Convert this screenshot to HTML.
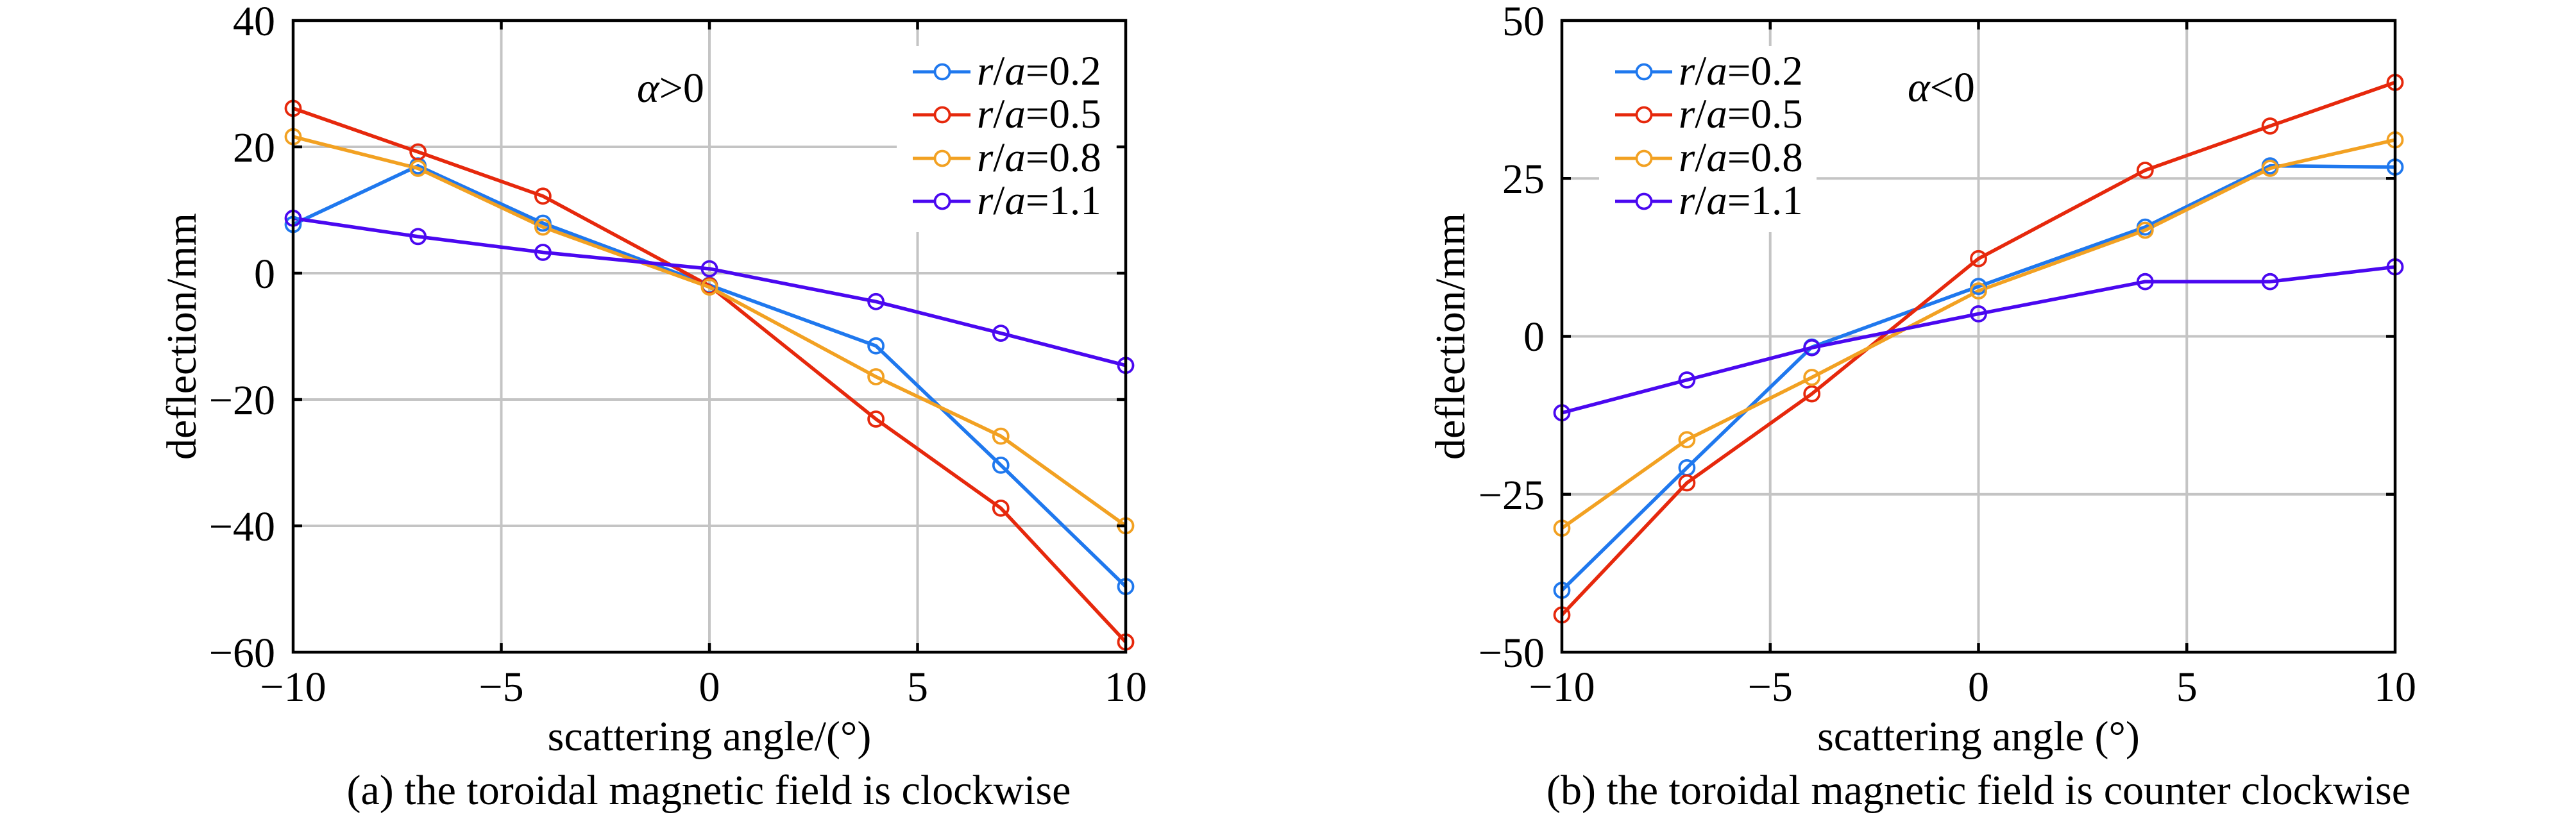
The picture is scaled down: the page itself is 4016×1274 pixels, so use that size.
<!DOCTYPE html>
<html><head><meta charset="utf-8"><style>
html,body{margin:0;padding:0;background:#fff;}
svg{display:block;}
svg text{font-family:"Liberation Serif","Times New Roman",serif;fill:#000;}
</style></head><body>
<svg width="4016" height="1274" viewBox="0 0 4016 1274" xmlns="http://www.w3.org/2000/svg" font-family="'Liberation Serif', serif">
<rect x="0" y="0" width="4016" height="1274" fill="#fff"/>

<!-- ============ LEFT PLOT ============ -->
<g stroke="#c4c4c4" stroke-width="4" fill="none">
  <line x1="781.5" y1="32" x2="781.5" y2="1017"/>
  <line x1="1106" y1="32" x2="1106" y2="1017"/>
  <line x1="1430.5" y1="32" x2="1430.5" y2="1017"/>
  <line x1="457" y1="229" x2="1755" y2="229"/>
  <line x1="457" y1="426" x2="1755" y2="426"/>
  <line x1="457" y1="623" x2="1755" y2="623"/>
  <line x1="457" y1="820" x2="1755" y2="820"/>
</g>
<g fill="none" stroke-width="5.5" stroke-linejoin="round">
  <polyline stroke="#1f78ee" points="457,350 651.7,258.6 846.4,348 1106,444.7 1365.6,539.3 1560.3,725.4 1755,914.6"/>
  <polyline stroke="#e6280c" points="457,168.9 651.7,236.9 846.4,305.8 1106,445.7 1365.6,653.5 1560.3,792.4 1755,1001.2"/>
  <polyline stroke="#f2a122" points="457,213.2 651.7,262.5 846.4,354.1 1106,447.7 1365.6,587.5 1560.3,680.1 1755,819.9"/>
  <polyline stroke="#4a08f0" points="457,340.3 651.7,368.9 846.4,393.5 1106,419.1 1365.6,470.3 1560.3,519.6 1755,569.8"/>
</g>
<g fill="none" stroke-width="3.8">
  <g stroke="#1f78ee">
    <circle cx="457" cy="350" r="11.5"/><circle cx="651.7" cy="258.6" r="11.5"/><circle cx="846.4" cy="348" r="11.5"/><circle cx="1106" cy="444.7" r="11.5"/><circle cx="1365.6" cy="539.3" r="11.5"/><circle cx="1560.3" cy="725.4" r="11.5"/><circle cx="1755" cy="914.6" r="11.5"/>
  </g>
  <g stroke="#e6280c">
    <circle cx="457" cy="168.9" r="11.5"/><circle cx="651.7" cy="236.9" r="11.5"/><circle cx="846.4" cy="305.8" r="11.5"/><circle cx="1106" cy="445.7" r="11.5"/><circle cx="1365.6" cy="653.5" r="11.5"/><circle cx="1560.3" cy="792.4" r="11.5"/><circle cx="1755" cy="1001.2" r="11.5"/>
  </g>
  <g stroke="#f2a122">
    <circle cx="457" cy="213.2" r="11.5"/><circle cx="651.7" cy="262.5" r="11.5"/><circle cx="846.4" cy="354.1" r="11.5"/><circle cx="1106" cy="447.7" r="11.5"/><circle cx="1365.6" cy="587.5" r="11.5"/><circle cx="1560.3" cy="680.1" r="11.5"/><circle cx="1755" cy="819.9" r="11.5"/>
  </g>
  <g stroke="#4a08f0">
    <circle cx="457" cy="340.3" r="11.5"/><circle cx="651.7" cy="368.9" r="11.5"/><circle cx="846.4" cy="393.5" r="11.5"/><circle cx="1106" cy="419.1" r="11.5"/><circle cx="1365.6" cy="470.3" r="11.5"/><circle cx="1560.3" cy="519.6" r="11.5"/><circle cx="1755" cy="569.8" r="11.5"/>
  </g>
</g>
<!-- legend left -->
<rect x="1398" y="72" width="342" height="290" fill="#fff"/>
<g stroke-width="5">
  <line x1="1423" y1="112" x2="1513" y2="112" stroke="#1f78ee"/>
  <line x1="1423" y1="179" x2="1513" y2="179" stroke="#e6280c"/>
  <line x1="1423" y1="247" x2="1513" y2="247" stroke="#f2a122"/>
  <line x1="1423" y1="314" x2="1513" y2="314" stroke="#4a08f0"/>
</g>
<g fill="#fff" stroke-width="3.8">
  <circle cx="1469" cy="112" r="11.5" stroke="#1f78ee"/>
  <circle cx="1469" cy="179" r="11.5" stroke="#e6280c"/>
  <circle cx="1469" cy="247" r="11.5" stroke="#f2a122"/>
  <circle cx="1469" cy="314" r="11.5" stroke="#4a08f0"/>
</g>
<g font-size="65" font-family="'Liberation Serif', serif">
  <text x="1523" y="132"><tspan font-style="italic">r</tspan>/<tspan font-style="italic">a</tspan>=0.2</text>
  <text x="1523" y="199"><tspan font-style="italic">r</tspan>/<tspan font-style="italic">a</tspan>=0.5</text>
  <text x="1523" y="267"><tspan font-style="italic">r</tspan>/<tspan font-style="italic">a</tspan>=0.8</text>
  <text x="1523" y="334"><tspan font-style="italic">r</tspan>/<tspan font-style="italic">a</tspan>=1.1</text>
</g>
<text x="993" y="159" font-size="66" font-family="'Liberation Serif', serif"><tspan font-style="italic">α</tspan>&gt;0</text>
<!-- frame & ticks -->
<rect x="457" y="32" width="1298" height="985" fill="none" stroke="#000" stroke-width="4.5"/>
<g stroke="#000" stroke-width="4.5">
  <line x1="781.5" y1="32" x2="781.5" y2="46"/><line x1="1106" y1="32" x2="1106" y2="46"/><line x1="1430.5" y1="32" x2="1430.5" y2="46"/>
  <line x1="781.5" y1="1017" x2="781.5" y2="1003"/><line x1="1106" y1="1017" x2="1106" y2="1003"/><line x1="1430.5" y1="1017" x2="1430.5" y2="1003"/>
  <line x1="457" y1="229" x2="471" y2="229"/><line x1="457" y1="426" x2="471" y2="426"/><line x1="457" y1="623" x2="471" y2="623"/><line x1="457" y1="820" x2="471" y2="820"/>
  <line x1="1755" y1="229" x2="1741" y2="229"/><line x1="1755" y1="426" x2="1741" y2="426"/><line x1="1755" y1="623" x2="1741" y2="623"/><line x1="1755" y1="820" x2="1741" y2="820"/>
</g>
<g font-size="66" text-anchor="end" font-family="'Liberation Serif', serif">
  <text x="429" y="55">40</text>
  <text x="429" y="252">20</text>
  <text x="429" y="449">0</text>
  <text x="429" y="646">−20</text>
  <text x="429" y="843">−40</text>
  <text x="429" y="1040">−60</text>
</g>
<g font-size="66" text-anchor="middle" font-family="'Liberation Serif', serif">
  <text x="457" y="1093">−10</text>
  <text x="781.5" y="1093">−5</text>
  <text x="1106" y="1093">0</text>
  <text x="1430.5" y="1093">5</text>
  <text x="1755" y="1093">10</text>
  <text x="1106" y="1170">scattering angle/(°)</text>
  <text x="1105" y="1254">(a) the toroidal magnetic field is clockwise</text>
</g>
<text font-size="66" text-anchor="middle" font-family="'Liberation Serif', serif" transform="translate(305,524.5) rotate(-90)">deflection/mm</text>

<!-- ============ RIGHT PLOT ============ -->
<g stroke="#c4c4c4" stroke-width="4" fill="none">
  <line x1="2759.75" y1="32" x2="2759.75" y2="1017"/>
  <line x1="3084.5" y1="32" x2="3084.5" y2="1017"/>
  <line x1="3409.25" y1="32" x2="3409.25" y2="1017"/>
  <line x1="2435" y1="278.25" x2="3734" y2="278.25"/>
  <line x1="2435" y1="524.5" x2="3734" y2="524.5"/>
  <line x1="2435" y1="770.75" x2="3734" y2="770.75"/>
</g>
<g fill="none" stroke-width="5.5" stroke-linejoin="round">
  <polyline stroke="#1f78ee" points="2435,920.5 2629.9,729.4 2824.7,541.2 3084.5,446.7 3344.3,354.1 3539.1,258.6 3734,260.5"/>
  <polyline stroke="#e6280c" points="2435,958.9 2629.9,753 2824.7,614.1 3084.5,403.3 3344.3,265.5 3539.1,196.5 3734,128.5"/>
  <polyline stroke="#f2a122" points="2435,823.6 2629.9,685.7 2824.7,588.5 3084.5,453.6 3344.3,359 3539.1,262.5 3734,218.2"/>
  <polyline stroke="#4a08f0" points="2435,643.7 2629.9,592.5 2824.7,542.2 3084.5,489.4 3344.3,439.2 3539.1,439.2 3734,416.2"/>
</g>
<g fill="none" stroke-width="3.8">
  <g stroke="#1f78ee">
    <circle cx="2435" cy="920.5" r="11.5"/><circle cx="2629.9" cy="729.4" r="11.5"/><circle cx="2824.7" cy="541.2" r="11.5"/><circle cx="3084.5" cy="446.7" r="11.5"/><circle cx="3344.3" cy="354.1" r="11.5"/><circle cx="3539.1" cy="258.6" r="11.5"/><circle cx="3734" cy="260.5" r="11.5"/>
  </g>
  <g stroke="#e6280c">
    <circle cx="2435" cy="958.9" r="11.5"/><circle cx="2629.9" cy="753" r="11.5"/><circle cx="2824.7" cy="614.1" r="11.5"/><circle cx="3084.5" cy="403.3" r="11.5"/><circle cx="3344.3" cy="265.5" r="11.5"/><circle cx="3539.1" cy="196.5" r="11.5"/><circle cx="3734" cy="128.5" r="11.5"/>
  </g>
  <g stroke="#f2a122">
    <circle cx="2435" cy="823.6" r="11.5"/><circle cx="2629.9" cy="685.7" r="11.5"/><circle cx="2824.7" cy="588.5" r="11.5"/><circle cx="3084.5" cy="453.6" r="11.5"/><circle cx="3344.3" cy="359" r="11.5"/><circle cx="3539.1" cy="262.5" r="11.5"/><circle cx="3734" cy="218.2" r="11.5"/>
  </g>
  <g stroke="#4a08f0">
    <circle cx="2435" cy="643.7" r="11.5"/><circle cx="2629.9" cy="592.5" r="11.5"/><circle cx="2824.7" cy="542.2" r="11.5"/><circle cx="3084.5" cy="489.4" r="11.5"/><circle cx="3344.3" cy="439.2" r="11.5"/><circle cx="3539.1" cy="439.2" r="11.5"/><circle cx="3734" cy="416.2" r="11.5"/>
  </g>
</g>
<!-- legend right -->
<rect x="2493" y="72" width="339" height="290" fill="#fff"/>
<g stroke-width="5">
  <line x1="2518" y1="112" x2="2607" y2="112" stroke="#1f78ee"/>
  <line x1="2518" y1="179" x2="2607" y2="179" stroke="#e6280c"/>
  <line x1="2518" y1="247" x2="2607" y2="247" stroke="#f2a122"/>
  <line x1="2518" y1="314" x2="2607" y2="314" stroke="#4a08f0"/>
</g>
<g fill="#fff" stroke-width="3.8">
  <circle cx="2563" cy="112" r="11.5" stroke="#1f78ee"/>
  <circle cx="2563" cy="179" r="11.5" stroke="#e6280c"/>
  <circle cx="2563" cy="247" r="11.5" stroke="#f2a122"/>
  <circle cx="2563" cy="314" r="11.5" stroke="#4a08f0"/>
</g>
<g font-size="65" font-family="'Liberation Serif', serif">
  <text x="2617" y="132"><tspan font-style="italic">r</tspan>/<tspan font-style="italic">a</tspan>=0.2</text>
  <text x="2617" y="199"><tspan font-style="italic">r</tspan>/<tspan font-style="italic">a</tspan>=0.5</text>
  <text x="2617" y="267"><tspan font-style="italic">r</tspan>/<tspan font-style="italic">a</tspan>=0.8</text>
  <text x="2617" y="334"><tspan font-style="italic">r</tspan>/<tspan font-style="italic">a</tspan>=1.1</text>
</g>
<text x="2974" y="158" font-size="66" font-family="'Liberation Serif', serif"><tspan font-style="italic">α</tspan>&lt;0</text>
<rect x="2435" y="32" width="1299" height="985" fill="none" stroke="#000" stroke-width="4.5"/>
<g stroke="#000" stroke-width="4.5">
  <line x1="2759.75" y1="32" x2="2759.75" y2="46"/><line x1="3084.5" y1="32" x2="3084.5" y2="46"/><line x1="3409.25" y1="32" x2="3409.25" y2="46"/>
  <line x1="2759.75" y1="1017" x2="2759.75" y2="1003"/><line x1="3084.5" y1="1017" x2="3084.5" y2="1003"/><line x1="3409.25" y1="1017" x2="3409.25" y2="1003"/>
  <line x1="2435" y1="278.25" x2="2449" y2="278.25"/><line x1="2435" y1="524.5" x2="2449" y2="524.5"/><line x1="2435" y1="770.75" x2="2449" y2="770.75"/>
  <line x1="3734" y1="278.25" x2="3720" y2="278.25"/><line x1="3734" y1="524.5" x2="3720" y2="524.5"/><line x1="3734" y1="770.75" x2="3720" y2="770.75"/>
</g>
<g font-size="66" text-anchor="end" font-family="'Liberation Serif', serif">
  <text x="2408" y="55">50</text>
  <text x="2408" y="301">25</text>
  <text x="2408" y="547">0</text>
  <text x="2408" y="794">−25</text>
  <text x="2408" y="1040">−50</text>
</g>
<g font-size="66" text-anchor="middle" font-family="'Liberation Serif', serif">
  <text x="2435" y="1093">−10</text>
  <text x="2759.75" y="1093">−5</text>
  <text x="3084.5" y="1093">0</text>
  <text x="3409.25" y="1093">5</text>
  <text x="3734" y="1093">10</text>
  <text x="3084.5" y="1170">scattering angle (°)</text>
  <text x="3084.5" y="1254">(b) the toroidal magnetic field is counter clockwise</text>
</g>
<text font-size="66" text-anchor="middle" font-family="'Liberation Serif', serif" transform="translate(2283,524.5) rotate(-90)">deflection/mm</text>
</svg>
</body></html>
